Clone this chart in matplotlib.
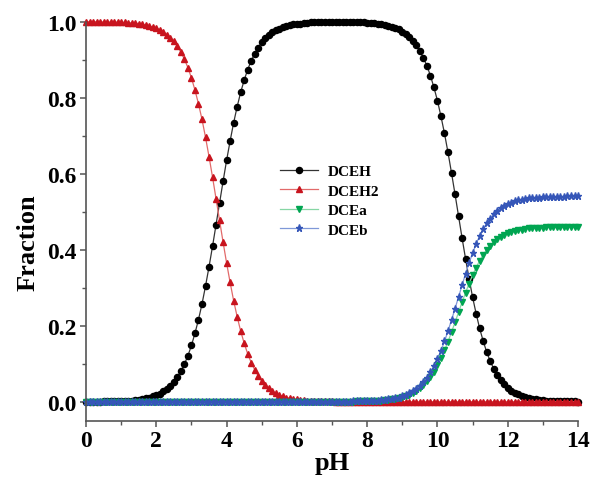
import numpy as np
import matplotlib
matplotlib.use("Agg")
import matplotlib.pyplot as plt
from matplotlib.ticker import MultipleLocator

plt.rcParams['font.family'] = ['Liberation Serif', 'DejaVu Serif']
plt.rcParams['font.weight'] = 'bold'

# pH grid, one point every 0.1 unit
ph = np.linspace(0, 14, 141)

dceh = [
    0.000, 0.000, 0.000, 0.000, 0.000, 0.001, 0.001, 0.001, 0.001, 0.001,
    0.002, 0.002, 0.003, 0.003, 0.004, 0.005, 0.007, 0.009, 0.011, 0.014,
    0.017, 0.021, 0.027, 0.034, 0.042, 0.052, 0.065, 0.080, 0.099, 0.121,
    0.148, 0.180, 0.216, 0.257, 0.304, 0.355, 0.409, 0.466, 0.523, 0.580,
    0.635, 0.686, 0.734, 0.776, 0.814, 0.846, 0.874, 0.897, 0.916, 0.932,
    0.946, 0.956, 0.965, 0.972, 0.978, 0.982, 0.986, 0.989, 0.991, 0.993,
    0.994, 0.995, 0.996, 0.997, 0.998, 0.998, 0.999, 0.999, 0.999, 0.999,
    0.999, 0.999, 0.999, 0.999, 0.999, 0.999, 0.999, 0.999, 0.998, 0.998,
    0.997, 0.997, 0.996, 0.995, 0.993, 0.992, 0.990, 0.987, 0.984, 0.980,
    0.974, 0.968, 0.960, 0.950, 0.938, 0.923, 0.905, 0.884, 0.858, 0.827,
    0.792, 0.751, 0.706, 0.656, 0.602, 0.546, 0.488, 0.431, 0.376, 0.324,
    0.275, 0.232, 0.193, 0.160, 0.131, 0.107, 0.087, 0.071, 0.057, 0.046,
    0.037, 0.029, 0.023, 0.019, 0.015, 0.012, 0.009, 0.008, 0.006, 0.005,
    0.004, 0.003, 0.002, 0.002, 0.002, 0.001, 0.001, 0.001, 0.001, 0.001,
    0.000,
]

dceh2 = [
    1.000, 1.000, 1.000, 1.000, 1.000, 0.999, 0.999, 0.999, 0.999, 0.999,
    0.998, 0.998, 0.997, 0.997, 0.996, 0.995, 0.993, 0.991, 0.989, 0.986,
    0.983, 0.979, 0.973, 0.966, 0.958, 0.948, 0.935, 0.920, 0.901, 0.879,
    0.852, 0.820, 0.784, 0.743, 0.696, 0.645, 0.591, 0.534, 0.477, 0.420,
    0.365, 0.314, 0.266, 0.224, 0.186, 0.154, 0.126, 0.103, 0.084, 0.068,
    0.054, 0.044, 0.035, 0.028, 0.022, 0.018, 0.014, 0.011, 0.009, 0.007,
    0.006, 0.005, 0.004, 0.003, 0.002, 0.002, 0.001, 0.001, 0.001, 0.001,
    0.001, 0.000, 0.000, 0.000, 0.000, 0.000, 0.000, 0.000, 0.000, 0.000,
    0.000, 0.000, 0.000, 0.000, 0.000, 0.000, 0.000, 0.000, 0.000, 0.000,
    0.000, 0.000, 0.000, 0.000, 0.000, 0.000, 0.000, 0.000, 0.000, 0.000,
    0.000, 0.000, 0.000, 0.000, 0.000, 0.000, 0.000, 0.000, 0.000, 0.000,
    0.000, 0.000, 0.000, 0.000, 0.000, 0.000, 0.000, 0.000, 0.000, 0.000,
    0.000, 0.000, 0.000, 0.000, 0.000, 0.000, 0.000, 0.000, 0.000, 0.000,
    0.000, 0.000, 0.000, 0.000, 0.000, 0.000, 0.000, 0.000, 0.000, 0.000,
    0.000,
]

dcea = [
    0.000, 0.000, 0.000, 0.000, 0.000, 0.000, 0.000, 0.000, 0.000, 0.000,
    0.000, 0.000, 0.000, 0.000, 0.000, 0.000, 0.000, 0.000, 0.000, 0.000,
    0.000, 0.000, 0.000, 0.000, 0.000, 0.000, 0.000, 0.000, 0.000, 0.000,
    0.000, 0.000, 0.000, 0.000, 0.000, 0.000, 0.000, 0.000, 0.000, 0.000,
    0.000, 0.000, 0.000, 0.000, 0.000, 0.000, 0.000, 0.000, 0.000, 0.000,
    0.000, 0.000, 0.000, 0.000, 0.000, 0.000, 0.000, 0.000, 0.000, 0.000,
    0.000, 0.000, 0.000, 0.000, 0.000, 0.000, 0.000, 0.000, 0.000, 0.000,
    0.000, 0.000, 0.000, 0.000, 0.000, 0.000, 0.000, 0.001, 0.001, 0.001,
    0.001, 0.002, 0.002, 0.002, 0.003, 0.004, 0.005, 0.006, 0.008, 0.009,
    0.012, 0.015, 0.018, 0.023, 0.029, 0.035, 0.044, 0.054, 0.065, 0.079,
    0.096, 0.114, 0.135, 0.158, 0.183, 0.209, 0.235, 0.262, 0.287, 0.311,
    0.333, 0.353, 0.371, 0.386, 0.400, 0.411, 0.420, 0.428, 0.434, 0.439,
    0.443, 0.447, 0.449, 0.451, 0.453, 0.455, 0.456, 0.457, 0.457, 0.458,
    0.458, 0.459, 0.459, 0.459, 0.459, 0.459, 0.460, 0.460, 0.460, 0.460,
    0.460,
]

dceb = [
    0.000, 0.000, 0.000, 0.000, 0.000, 0.000, 0.000, 0.000, 0.000, 0.000,
    0.000, 0.000, 0.000, 0.000, 0.000, 0.000, 0.000, 0.000, 0.000, 0.000,
    0.000, 0.000, 0.000, 0.000, 0.000, 0.000, 0.000, 0.000, 0.000, 0.000,
    0.000, 0.000, 0.000, 0.000, 0.000, 0.000, 0.000, 0.000, 0.000, 0.000,
    0.000, 0.000, 0.000, 0.000, 0.000, 0.000, 0.000, 0.000, 0.000, 0.000,
    0.000, 0.000, 0.000, 0.000, 0.000, 0.000, 0.000, 0.000, 0.000, 0.000,
    0.000, 0.000, 0.000, 0.000, 0.000, 0.000, 0.000, 0.000, 0.000, 0.000,
    0.000, 0.000, 0.000, 0.000, 0.000, 0.000, 0.001, 0.001, 0.001, 0.001,
    0.001, 0.002, 0.002, 0.003, 0.004, 0.004, 0.006, 0.007, 0.009, 0.011,
    0.014, 0.017, 0.022, 0.027, 0.033, 0.041, 0.051, 0.063, 0.077, 0.093,
    0.112, 0.134, 0.159, 0.186, 0.215, 0.245, 0.276, 0.307, 0.337, 0.365,
    0.391, 0.415, 0.436, 0.454, 0.469, 0.482, 0.493, 0.502, 0.509, 0.515,
    0.520, 0.524, 0.527, 0.530, 0.532, 0.534, 0.535, 0.536, 0.537, 0.537,
    0.538, 0.538, 0.539, 0.539, 0.539, 0.539, 0.539, 0.540, 0.540, 0.540,
    0.540,
]

fig = plt.figure(figsize=(5.92, 4.81), dpi=100)
ax = fig.add_axes([0.1453, 0.1233, 0.8311, 0.8295])

ax.plot(ph, dceh, color='#333333', lw=0.9, marker='o', ms=4.4,
        mfc='black', mec='black', label='DCEH', clip_on=False)
ax.plot(ph, dceh2, color='#e26a6a', lw=0.9, marker='^', ms=4.8,
        mfc='#c8141e', mec='#c8141e', label='DCEH2', clip_on=False)
ax.plot(ph, dcea, color='#86d6a4', lw=0.9, marker='v', ms=4.8,
        mfc='#00a551', mec='#00a551', label='DCEa', clip_on=False)
ax.plot(ph, dceb, color='#7f98d8', lw=0.9, marker='*', ms=5.2,
        mfc='#3556b8', mec='#3556b8', label='DCEb', clip_on=False)

ax.set_xlim(0, 14)
ax.set_ylim(-0.05, 1.0)
ax.xaxis.set_major_locator(MultipleLocator(2))
ax.xaxis.set_minor_locator(MultipleLocator(1))
ax.yaxis.set_major_locator(MultipleLocator(0.2))
ax.yaxis.set_minor_locator(MultipleLocator(0.1))
ax.yaxis.set_major_formatter(plt.FuncFormatter(lambda v, p: f'{v:.1f}'))

for side in ['top', 'right']:
    ax.spines[side].set_visible(False)
for side in ['left', 'bottom']:
    ax.spines[side].set_color('#555555')
    ax.spines[side].set_linewidth(1.2)

ax.tick_params(which='major', direction='out', length=4.5, width=1.1,
               color='#555555', labelsize=17, pad=2)
ax.tick_params(which='minor', direction='out', length=3, width=1.0,
               color='#555555')
for lab in ax.get_xticklabels() + ax.get_yticklabels():
    lab.set_fontweight('bold')

ax.set_xlabel('pH', fontsize=19, fontweight='bold', labelpad=0)
ax.set_ylabel('Fraction', fontsize=19, fontweight='bold')
ax.yaxis.set_label_coords(-0.094, 0.448)

leg = ax.legend(loc='center left', bbox_to_anchor=(0.382, 0.552), frameon=False,
                prop={'family': 'Liberation Serif', 'weight': 'bold', 'size': 11},
                handlelength=2.5, handletextpad=0.6, labelspacing=0.38,
                borderaxespad=0)

fig.savefig('out.png', dpi=100)
